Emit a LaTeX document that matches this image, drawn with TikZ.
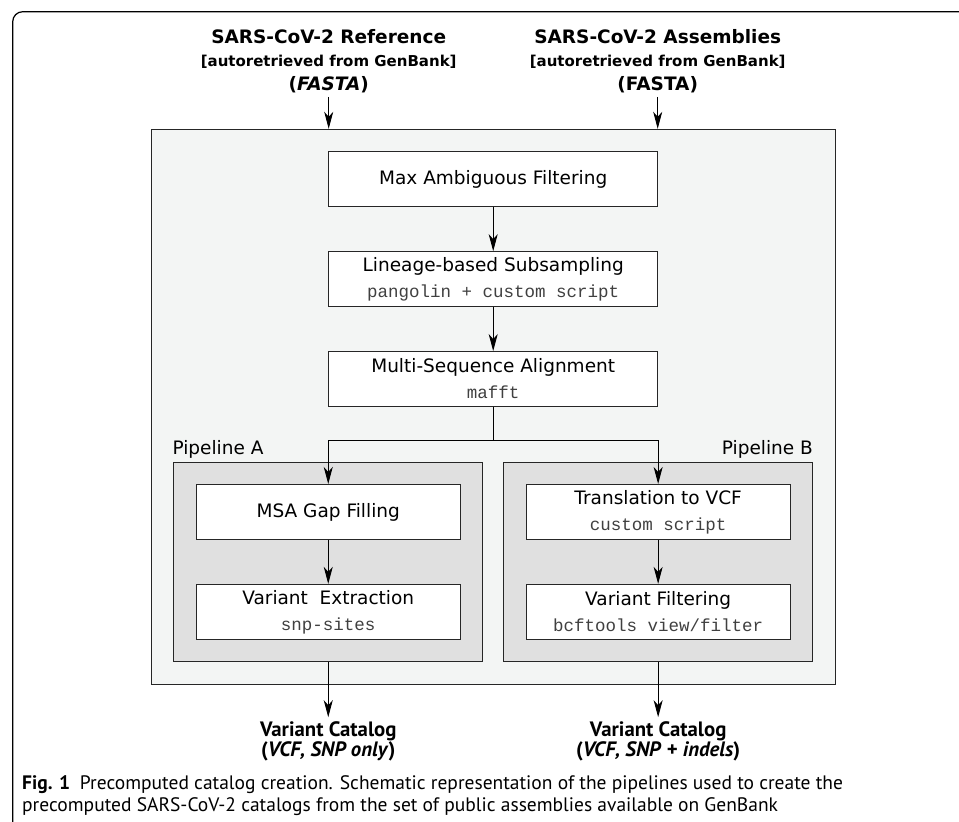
\documentclass[tikz,border=0pt]{standalone}
\usepackage{fontspec}
\setmainfont{DejaVu Sans}
\setmonofont{Liberation Mono}
\newfontfamily\capfont{PT Sans}
\usepackage{tikz}
\usetikzlibrary{arrows.meta, positioning, fit}
\definecolor{panelgray}{HTML}{F3F5F4}
\definecolor{pipegray}{HTML}{E0E0E0}
\newcommand{\toolname}[1]{{\ttfamily\fontsize{17.5}{26}\selectfont\color{black!75}#1}}
\pgfdeclarelayer{panel}
\pgfdeclarelayer{group}
\pgfsetlayers{panel,group,main}

\begin{document}
\begin{tikzpicture}[
  x=1pt, y=-1pt,
  node distance=44pt,
  every node/.style={font=\fontsize{18.5}{26}\selectfont},
  stage/.style={rectangle, draw=black!85, line width=0.9pt, fill=white, minimum width=329pt, minimum height=55pt, align=center, inner sep=0pt},
  substage/.style={stage, minimum width=264pt},
  source/.style={align=center, inner sep=0pt, font=\fontsize{18.5}{23.5}\selectfont\bfseries},
  catalog/.style={align=center, inner sep=4pt, font=\capfont\fontsize{20.8}{20}\selectfont\bfseries},
  pipe/.style={rectangle, draw=black!85, line width=0.9pt, fill=pipegray, inner sep=22pt},
  arr/.style={-{Stealth[length=17pt, width=9pt, inset=5pt]}, line width=0.9pt}
]
\useasboundingbox (0,0) rectangle (959,822);

% Frame
\draw[line width=1.2pt, rounded corners=10pt] (12.7,822) -- (12.7,11.7) -- (959,11.7);

% Inputs
\node[source, anchor=north] (refsrc) at (328.7,29) {SARS-CoV-2 Reference\\{\fontsize{15}{23.5}\selectfont [autoretrieved from GenBank]}\\(\textit{FASTA})};
\node[source, anchor=north] (asmsrc) at (657.7,29) {SARS-CoV-2 Assemblies\\{\fontsize{15}{23.5}\selectfont [autoretrieved from GenBank]}\\(FASTA)};

% Shared steps
\node[stage] (maxfilt) at (493.2,179.2) {Max Ambiguous Filtering};
\node[stage, below=of maxfilt] (subsamp) {Lineage-based Subsampling\\\toolname{pangolin + custom script}};
\node[stage, below=of subsamp] (msa) {Multi-Sequence Alignment\\\toolname{mafft}};
\coordinate[below=33pt of msa.south] (split);

% Pipeline A
\node[substage, below=77pt of msa.south west] (gapfill) {MSA Gap Filling};
\node[substage, below=of gapfill] (varext) {Variant\ \ Extraction\\\toolname{snp-sites}};

% Pipeline B
\node[substage, below=77pt of msa.south east] (vcftrans) {Translation to VCF\\\toolname{custom script}};
\node[substage, below=of vcftrans] (varfilt) {Variant Filtering\\\toolname{bcftools view/filter}};

% Groups
\begin{pgfonlayer}{group}
  \node[pipe, fit=(gapfill)(varext), label={[anchor=south west, inner sep=0pt, yshift=3pt, xshift=-1pt]north west:Pipeline A}] (pipeA) {};
  \node[pipe, fit=(vcftrans)(varfilt), label={[anchor=south east, inner sep=0pt, yshift=3pt]north east:Pipeline B}] (pipeB) {};
\end{pgfonlayer}
\begin{pgfonlayer}{panel}
  \node[rectangle, draw=black!85, line width=0.9pt, fill=panelgray, inner sep=22pt, fit=(maxfilt)(pipeA)(pipeB)] (panel) {};
\end{pgfonlayer}

% Outputs
\node[catalog, below=55pt of pipeA.south] (catA) {Variant Catalog\\(\textit{VCF, SNP only})};
\node[catalog, below=55pt of pipeB.south] (catB) {Variant Catalog\\(\textit{VCF, SNP} + \textit{indels})};

% Caption
\node[anchor=north west, align=left, inner sep=0pt, font=\capfont\fontsize{19.5}{22}\selectfont] (caption) at (22,775) {\textbf{Fig. 1}\enspace Precomputed catalog creation. Schematic representation of the pipelines used to create the\\precomputed SARS-CoV-2 catalogs from the set of public assemblies available on GenBank};

% Edges
\draw[arr] ([yshift=-4pt]refsrc.south) -- (refsrc.south |- panel.north);
\draw[arr] ([yshift=-4pt]asmsrc.south) -- (asmsrc.south |- panel.north);
\draw[arr] (maxfilt) -- (subsamp);
\draw[arr] (subsamp) -- (msa);
\draw[line width=0.9pt] (msa) -- (split);
\draw[arr] (split) -| (gapfill);
\draw[arr] (split) -| (vcftrans);
\draw[arr] (gapfill) -- (varext);
\draw[arr] (vcftrans) -- (varfilt);
\draw[arr] (pipeA) -- (catA);
\draw[arr] (pipeB) -- (catB);

\end{tikzpicture}
\end{document}
